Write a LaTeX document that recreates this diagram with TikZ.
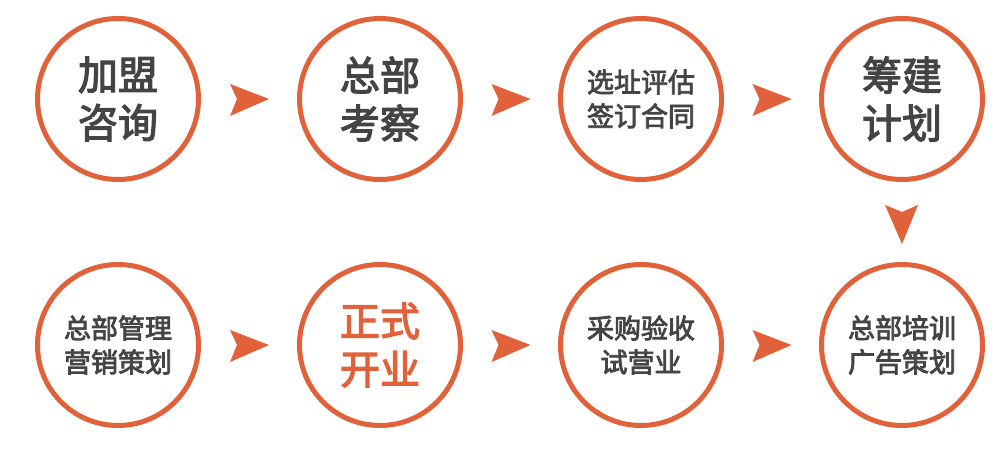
\documentclass[tikz,border=0pt]{standalone}
\usepackage{fontspec}
\newfontfamily\cjk[FakeBold=3]{Noto Sans CJK SC}
\definecolor{org}{HTML}{E0613A}
\definecolor{txt}{HTML}{444444}
\tikzset{
  stage/.style={circle, draw=org, line width=5pt, minimum size=161pt, inner sep=0pt, align=center, text=txt},
  big/.style={font=\cjk\fontsize{40}{48}\selectfont},
  small/.style={font=\cjk\fontsize{27}{34}\selectfont},
  rarrow/.pic={\fill[org] (-19,-15) -- (20,0) -- (-19,17) -- (-12,0) -- cycle;},
  darrow/.pic={\fill[org] (-17,-17) -- (0,-10) -- (16,-17) -- (0,22) -- cycle;}
}
\begin{document}
\begin{tikzpicture}[x=1pt,y=-1pt]
\useasboundingbox[fill=white] (0,0) rectangle (1004,449);
\node[stage,big] (a) at (118,99) {加盟\\咨询};
\node[stage,big] (b) at (380,99) {总部\\考察};
\node[stage,small] (c) at (641,99) {选址评估\\签订合同};
\node[stage,big] (d) at (902,99) {筹建\\计划};
\node[stage,small] (e) at (902,345) {总部培训\\广告策划};
\node[stage,small] (f) at (641,345) {采购验收\\试营业};
\node[stage,big,text=org] (g) at (380,345) {正式\\开业};
\node[stage,small] (h) at (118,345) {总部管理\\营销策划};
\path (a) -- (b) coordinate[midway] (ab);
\path (b) -- (c) coordinate[midway] (bc);
\path (c) -- (d) coordinate[midway] (cd);
\path (d) -- (e) coordinate[midway] (de);
\path (h) -- (g) coordinate[midway] (hg);
\path (g) -- (f) coordinate[midway] (gf);
\path (f) -- (e) coordinate[midway] (fe);
\pic at (ab) {rarrow};
\pic at (bc) {rarrow};
\pic at (cd) {rarrow};
\pic at (de) {darrow};
\pic at (hg) {rarrow};
\pic at (gf) {rarrow};
\pic at (fe) {rarrow};
\end{tikzpicture}
\end{document}
